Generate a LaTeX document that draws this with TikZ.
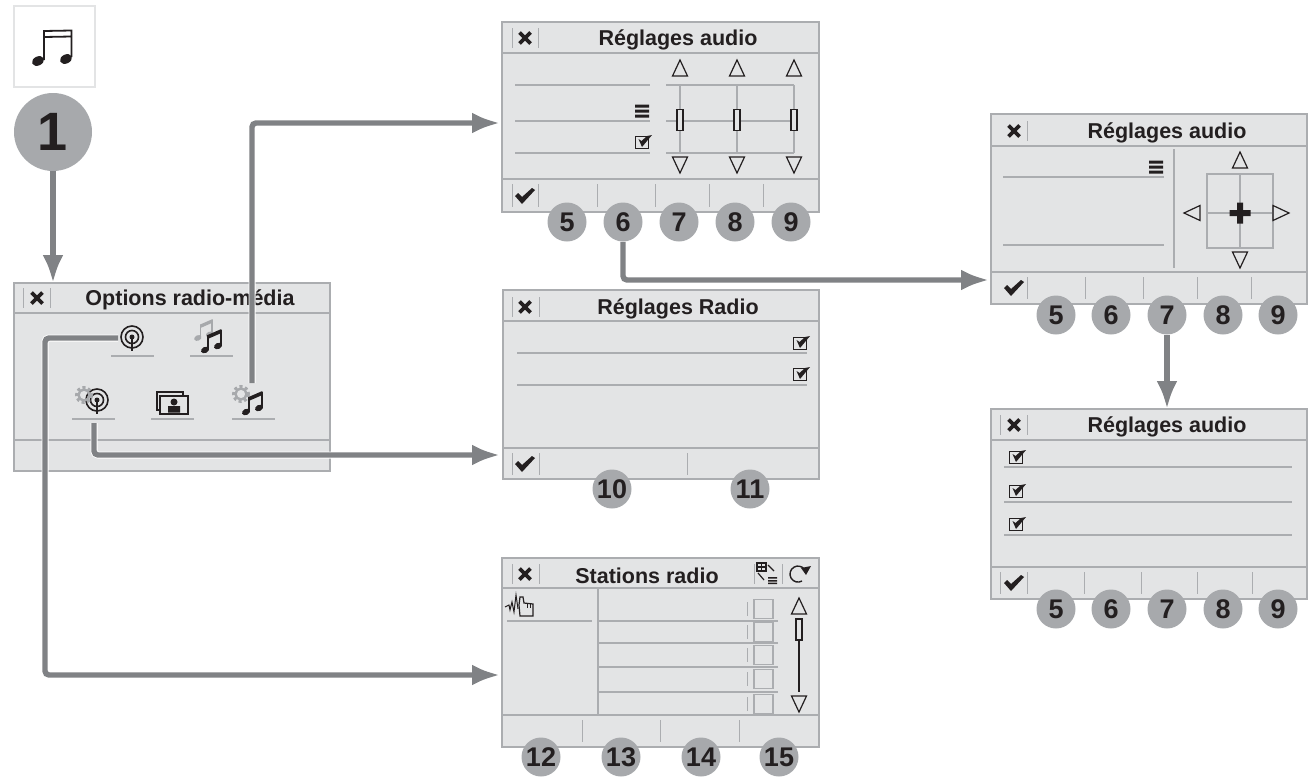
\documentclass[tikz,border=0pt]{standalone}
\usepackage{fontspec}
\setmainfont{Liberation Sans}
\usepackage{xcolor}
\usetikzlibrary{arrows.meta}

\definecolor{panelfill}{HTML}{E3E4E5}
\definecolor{panelrule}{HTML}{ABADB0}
\definecolor{badgefill}{HTML}{A7A9AC}
\definecolor{flowgray}{HTML}{808285}
\definecolor{ink}{HTML}{231F20}

\begin{document}
\begin{tikzpicture}[
    x=0.5pt, y=-0.5pt,
    screen/.style 2 args={draw=panelrule, fill=panelfill, line width=0.75pt, minimum width=#1*0.5pt, minimum height=#2*0.5pt, inner sep=0pt, outer sep=0pt},
    screentitle/.style={font=\fontsize{10.75}{12}\selectfont\bfseries, text=ink, inner sep=0pt, yshift=-0.8pt},
    badge/.style={circle, fill=badgefill, text=ink, minimum size=19.5pt, inner sep=0pt, font=\fontsize{13.5}{14}\selectfont\bfseries},
    iconspot/.style 2 args={minimum width=#1*0.5pt, minimum height=#2*0.5pt, inner sep=0pt, outer sep=0pt},
    rule/.style={draw=panelrule, line width=0.7pt},
    sep/.style={draw=panelrule, line width=0.5pt},
    thin ink/.style={draw=ink, line width=0.6pt},
    arrow/.style={-{Latex[length=14pt,width=10.5pt]}, draw=flowgray, line width=2.7pt, rounded corners=2pt,
        preaction={draw=white, line width=3.5pt, -, shorten >=10pt}},
    crossmark/.pic={\draw[ink, line width=1.9pt] (-5.5,-5.5) -- (5.5,5.5) (-5.5,5.5) -- (5.5,-5.5);},
    tickmark/.pic={\fill[ink] (-10,0) -- (-7,-3) -- (-3,1) -- (7,-8) -- (10,-6) -- (-3,8) -- cycle;},
    menubars/.pic={\fill[ink] (-7,-6.5) rectangle (7,-3.5) (-7,-1.5) rectangle (7,1.5) (-7,3.5) rectangle (7,6.5);},
    chkbox/.pic={\draw[ink, line width=0.85pt] (-6.5,-5.5) rectangle (6.5,6.5);
        \fill[ink] (-3.5,-3) -- (-0.5,-1) -- (5,-6) -- (10,-7) -- (0,5) -- cycle;},
    tri/.pic={\draw[thin ink] (0,-8) -- (7.5,8) -- (-7.5,8) -- cycle;},
    slider/.pic={\draw[thin ink, fill=panelfill] (-3,-10.5) rectangle (3,10.5);},
    notes/.pic={\fill[#1] (-8,10) ellipse [x radius=4.2, y radius=3, rotate=25];
        \fill[#1] (5,6) ellipse [x radius=4.2, y radius=3, rotate=25];
        \draw[#1, line width=0.8pt] (-5,10) -- (-5,-5) (8,6) -- (8,-10);
        \fill[#1] (-5.4,-5) -- (8.4,-11) -- (8.4,-7) -- (-5.4,-1) -- cycle;},
    cog/.pic={\draw[badgefill, line width=1.2pt] (0,0) circle (5.5);
        \draw[badgefill, line width=1.5pt, dash pattern=on 1.5pt off 1.3pt] (0,0) circle (7.5);},
    mast/.pic={\draw[ink, line width=0.8pt] (0,0) circle (11);
        \draw[ink, line width=0.8pt] (0,0) circle (6.5);
        \fill[ink] (0,0) circle (2.5);
        \draw[ink, line width=0.8pt] (0,0) -- (0,14);},
]
    % screens
    \node[screen={316}{188}] (optpanel) at (172,377) {};
    \node[screen={317}{190}] (audioa) at (660.5,117) {};
    \node[screen={316}{189}] (radiopanel) at (661,384.5) {};
    \node[screen={317}{189}] (stations) at (660.5,652.5) {};
    \node[screen={316}{190}] (audiob) at (1149,209) {};
    \node[screen={316}{190}] (audioc) at (1149,504) {};

    % title bars and lower bars
    \foreach \left/\right/\titley/\lowy in {14/330/313/440, 502/819/53/179, 503/819/321/448, 502/819/588/715, 991/1307/146/272, 991/1307/440/567}
        \draw[rule] (\left,\titley) -- (\right,\titley) (\left,\lowy) -- (\right,\lowy);

    \node[screentitle] (opttitle) at (190,298) {Options radio-média};
    \node[screentitle] (audioatitle) at (678,38) {Réglages audio};
    \node[screentitle] (radiotitle) at (678,307) {Réglages Radio};
    \node[screentitle] (stationstitle) at (647,574) {Stations radio};
    \node[screentitle] (audiobtitle) at (1167,131) {Réglages audio};
    \node[screentitle] (audioctitle) at (1167,425) {Réglages audio};

    % close buttons
    \foreach \x/\y in {37/298, 525/38, 525/307, 525/574, 1014/131, 1014/425}
        \pic at (\x,\y) {crossmark};
    \foreach \x/\y in {23/298, 50/298, 512/38, 538/38, 512/307, 539/307, 512/574, 539/574, 754/574, 782/574, 1027/131, 1000/425, 1027/425}
        \draw[sep] (\x,\y-10) -- (\x,\y+10);

    % lower bar separators and ticks
    \foreach \x in {512,538,597,655,709,763}
        \draw[sep] (\x,184) -- (\x,207);
    \foreach \x in {512,539,687}
        \draw[sep] (\x,453) -- (\x,475);
    \foreach \x in {582,660,739}
        \draw[sep] (\x,720) -- (\x,742);
    \foreach \x in {1027,1085,1143,1197,1251}
        \draw[sep] (\x,277) -- (\x,299);
    \foreach \x in {1000,1027,1084,1141,1197,1252}
        \draw[sep] (\x,572) -- (\x,594);
    \foreach \x/\y in {525/196, 525/464, 1014/288, 1014/583}
        \pic at (\x,\y) {tickmark};

    % first audio screen
    \foreach \y in {85,121,153} {
        \draw[rule] (515,\y) -- (650,\y);
        \draw[rule] (666,\y) -- (794,\y);
    }
    \foreach \x in {680,737,794} {
        \draw[rule] (\x,85) -- (\x,153);
        \pic at (\x,120) {slider};
        \pic at (\x,68) {tri};
        \pic[rotate=180] at (\x,165) {tri};
    }
    \pic at (642,111) {menubars};
    \pic at (642,142) {chkbox};

    % radio settings
    \foreach \y in {353,385}
        \draw[rule] (517,\y) -- (807,\y);
    \pic at (800,343) {chkbox};
    \pic at (800,374) {chkbox};

    % station list
    \draw[rule] (598,588) -- (598,715);
    \draw[rule] (507,621) -- (592,621);
    \foreach \y in {621,643,667,692}
        \draw[rule] (598,\y) -- (778,\y);
    \foreach \y in {609,632,655,679,704} {
        \draw[rule] (754,\y-9.5) rectangle (773,\y+9.5);
        \draw[sep] (747,\y-7) -- (747,\y+7);
    }
    \pic at (799,606) {tri};
    \pic[rotate=180] at (799,704) {tri};
    \draw[ink, line width=0.6pt] (799,640) -- (799,692);
    \draw[thin ink] (796,619) rectangle (802,640);
    % hand
    \draw[ink, line width=0.5pt] (505,607) -- (509,605) -- (510,610) -- (512,602) -- (514,612) -- (516,595) -- (518,609);
    \draw[ink, line width=0.6pt] (520,616) -- (519,605) -- (520,597) -- (523,597) -- (524,603) -- (533,604) -- (533,616) -- cycle;
    \draw[ink, line width=0.4pt] (527,604) -- (527,608) (530,604) -- (530,608);
    % station list header icons
    \draw[ink, line width=0.6pt] (757,563) rectangle (766,571) (761.5,563) -- (761.5,571) (757,567) -- (766,567);
    \draw[ink, line width=0.6pt] (768,565) -- (774,571) (758,573) -- (764,580);
    \fill[ink] (768,577) rectangle (777,578.5) (768,580) rectangle (777,581.5) (768,582.5) rectangle (777,584);
    \draw[ink, line width=0.7pt] (802,581) arc [start angle=60, end angle=320, radius=8];
    \fill[ink] (801,568) -- (811,566) -- (806,575) -- cycle;

    % second audio screen
    \foreach \y in {177,245}
        \draw[rule] (1003,\y) -- (1164,\y);
    \draw[rule] (1174,149) -- (1174,268);
    \draw[rule] (1207,174) rectangle (1273,248);
    \draw[rule] (1207,213) -- (1273,213) (1240,174) -- (1240,248);
    \fill[ink] (1229.5,210) rectangle (1250.5,216) (1237,202.5) rectangle (1243,223.5);
    \pic at (1156,167) {menubars};
    \pic at (1240,160) {tri};
    \pic[rotate=180] at (1240,260) {tri};
    \pic[rotate=90] at (1192,213) {tri};
    \pic[rotate=-90] at (1281,213) {tri};

    % third audio screen
    \foreach \y in {467,502,535}
        \draw[rule] (1004,\y) -- (1292,\y);
    \foreach \y in {457,491,524}
        \pic at (1016,\y) {chkbox};

    % media options icons
    \foreach \left/\y in {111/356, 190/356, 72/419, 151/419, 232/419}
        \draw[rule] (\left,\y) -- (\left+43,\y);
    \node[iconspot={28}{28}] (radioicon) at (132,338) {};
    \node[iconspot={28}{46}] (gearradio) at (94,400) {};
    \node[iconspot={28}{32}] (gearmusic) at (252,399) {};
    \pic at (132,337) {mast};
    \pic at (97,400) {mast};
    \pic at (84,395) {cog};
    \pic[scale=0.9] at (205,329) {notes=badgefill};
    \pic at (213,340) {notes=ink};
    \pic at (241,394) {cog};
    \pic at (254,402) {notes=ink};
    % photo icon
    \draw[ink, line width=0.6pt, fill=panelfill] (157,392) rectangle (183,410);
    \draw[ink, line width=0.6pt, fill=panelfill] (160,396) rectangle (188,414);
    \fill[ink] (174,402) circle (3.5) (168,412.5) rectangle (180,406);

    % shortcut key
    \draw[panelfill, line width=1pt] (14,6) rectangle (95,87);
    \node[iconspot={82}{82}] (keybox) at (54.5,46.5) {};
    \fill[ink] (38,61) ellipse [x radius=6.3, y radius=4.5, rotate=25];
    \fill[ink] (66,59) ellipse [x radius=6.3, y radius=4.5, rotate=25];
    \draw[ink, line width=0.9pt] (44,60) -- (44,31) -- (71.5,30.5) -- (71.5,57) (44,37) -- (71.5,36.5);

    % numbers
    \node[badge, minimum size=39pt, font=\fontsize{27}{28}\selectfont\bfseries] (badgeone) at (53,132) {1};
    \foreach \n/\x in {5/567,6/623,7/679,8/735,9/791}
        \node[badge] (a\n) at (\x,222) {\n};
    \foreach \n/\x in {10/612,11/750}
        \node[badge] (r\n) at (\x,489) {\n};
    \foreach \n/\x in {12/541,13/621,14/701,15/779}
        \node[badge] (s\n) at (\x,757) {\n};
    \foreach \n/\x in {5/1056,6/1111,7/1167,8/1223,9/1278}
        \node[badge] (b\n) at (\x,315) {\n};
    \foreach \n/\x in {5/1056,6/1111,7/1167,8/1223,9/1278}
        \node[badge] (c\n) at (\x,609) {\n};

    % Arrows
    \coordinate (audioain) at (500,123);
    \coordinate (radioin) at (500,455);
    \coordinate (stationsin) at (500,675);
    \coordinate (audiobin) at (989,280);
    \draw[arrow] (badgeone) -- (badgeone |- optpanel.north);
    \draw[arrow] (gearmusic.north) |- (audioain);
    \draw[arrow] (gearradio.south) |- (radioin);
    \draw[arrow] (radioicon.west) -| (45,500) |- (stationsin);
    \draw[arrow] (a6.south) |- (audiobin);
    \draw[arrow] (b7.south) -- (b7 |- audioc.north);

    \useasboundingbox (0,0) rectangle (1315,776);
\end{tikzpicture}
\end{document}
